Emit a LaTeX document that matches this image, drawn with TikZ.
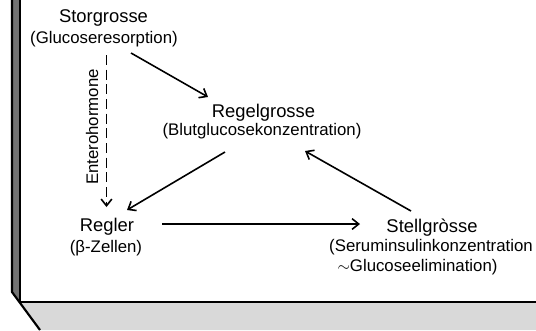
\documentclass[tikz,border=0pt]{standalone}
\usepackage{fontspec}
\setmainfont{Liberation Sans}
\usetikzlibrary{arrows.meta}
\begin{document}
\begin{tikzpicture}[x=0.75pt,y=-0.75pt,
  title/.style={inner sep=0pt,font=\fontsize{13.8}{16}\selectfont},
  sub/.style={inner sep=0pt,font=\fontsize{12.6}{14}\selectfont},
  arr/.style={line width=1.2pt,-{Straight Barb[length=5pt,width=8pt,line width=1.2pt]}},
  frameline/.style={line width=1.6pt,black}]
\useasboundingbox (0,0) rectangle (536,330);
% scanned panel frame
\fill[black!55] (11,0) -- (11,292) -- (20,302) -- (20,0) -- cycle;
\fill[black!15] (11,292) -- (40,330) -- (536,330) -- (536,303) -- (20,303) -- cycle;
\draw[frameline] (12,0) -- (12,292) -- (40,330);
\draw[frameline] (20,0) -- (20,302) -- (536,302);
% nodes
\node[title] (stor) at (103.5,18) {Storgrosse};
\node[sub]   (storsub) at (104,39) {(Glucoseresorption)};
\node[title] (regel) at (263.5,113) {Regelgrosse};
\node[sub]   (regelsub) at (262,131) {(Blutglucosekonzentration)};
\node[title] (regler) at (107,227) {Regler};
\node[sub]   (reglersub) at (106,248) {(β-Zellen)};
\node[title] (stell) at (432,227.5) {Stellgròsse};
\node[sub]   (stellsub1) at (431,247) {(Seruminsulinkonzentration};
\node[sub]   (stellsub2) at (417.5,267) {$\sim$Glucoseelimination)};
\node[sub,rotate=90] (entero) at (92,127) {Enterohormone};
% connector end points
\coordinate (a1) at (131,53);  \coordinate (b1) at (208,97);
\coordinate (a2) at (225,152); \coordinate (b2) at (127,210);
\coordinate (a3) at (162,224); \coordinate (b3) at (360,224);
\coordinate (a4) at (411,211); \coordinate (b4) at (305,151);
\coordinate (a5) at (106.5,55); \coordinate (b5) at (106.5,207);
% connectors
\draw[arr] (a1) -- (b1);
\draw[arr] (a2) -- (b2);
\draw[arr] (a3) -- (b3);
\draw[arr] (a4) -- (b4);
\draw[arr,dash pattern=on 7.5pt off 3.5pt] (a5) -- (b5);
\end{tikzpicture}
\end{document}
